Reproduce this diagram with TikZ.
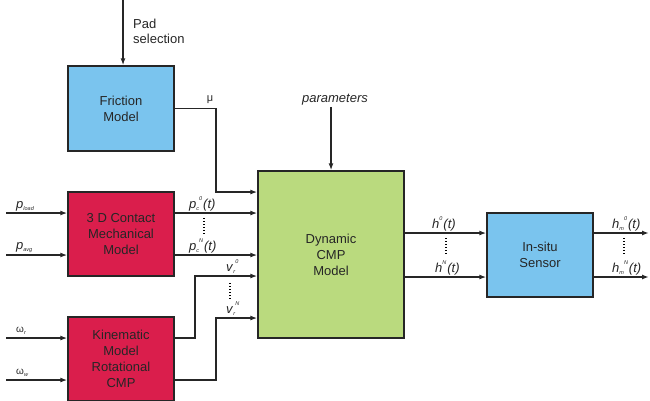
\documentclass[tikz,border=0pt]{standalone}
\usepackage{fontspec}
\setmainfont{Liberation Sans}
\usetikzlibrary{arrows.meta, positioning, calc}
\definecolor{fricblue}{RGB}{122,196,238}
\definecolor{modred}{RGB}{218,30,76}
\definecolor{cmpgreen}{RGB}{186,218,126}
% signal label: base, subscript, superscript, tail
\newcommand{\sgn}[4]{\textit{#1}\raisebox{-0.35ex}{\fontsize{5.5}{5.5}\selectfont\textit{#2}}\raisebox{1.15ex}{\fontsize{5.5}{5.5}\selectfont\textit{#3}}\hspace{1pt}\textit{#4}}

\begin{document}
\begin{tikzpicture}[x=1pt, y=-1pt,
  block/.style={draw=black!85, line width=1.4pt, inner sep=0pt, align=center,
    text=black!85, font=\fontsize{13}{16}\selectfont},
  sig/.style={line width=1.4pt, draw=black!85},
  arr/.style={sig, -{Latex[length=7pt,width=5pt]}},
  lbl/.style={font=\fontsize{13}{15}\selectfont, inner sep=1pt, text=black!85},
  vdots/.style={line width=1.4pt, dash pattern=on 1.3pt off 1.7pt}]
  \useasboundingbox (0,0) rectangle (650,400);
  \clip (0,0) rectangle (650,400);

  % blocks
  \node[block, fill=fricblue, minimum width=106pt, minimum height=85pt] (fric) at (121,108.5) {Friction\\Model};
  \node[block, fill=modred, minimum width=106pt, minimum height=84pt] (cont) at (121,234) {3 D Contact\\Mechanical\\Model};
  \node[block, fill=modred, minimum width=106pt, minimum height=84pt] (kin) at (121,359) {Kinematic\\Model\\Rotational\\CMP};
  \node[block, fill=cmpgreen, minimum width=146pt, minimum height=167pt] (dyn) at (331,254.5) {Dynamic\\CMP\\Model};
  \node[block, fill=fricblue, minimum width=106pt, minimum height=84pt] (sens) at (540,255) {In-situ\\Sensor};

  % pad selection and parameters
  \coordinate (pad) at (123,0);
  \draw[arr] (pad) -- (pad |- fric.north);
  \node[lbl, anchor=west, align=left] (padsel) at (132,31) {Pad\\selection};
  \node[lbl, font=\fontsize{13}{15}\selectfont\itshape] (par) at (335,100) {parameters};
  \draw[arr] (par.south -| dyn.north) -- (dyn.north);

  % friction coefficient
  \coordinate (mu) at (216,192);
  \draw[arr] (fric.east) -| (mu) -- (mu -| dyn.west);
  \node[lbl, font=\fontsize{11}{11}\selectfont] (lmu) at (210,100) {μ};

  % contact model in/out
  \coordinate (pload) at (6,213);
  \coordinate (pavg) at (6,255);
  \draw[arr] (pload) -- (pload -| cont.west);
  \draw[arr] (pavg) -- (pavg -| cont.west);
  \node[lbl, anchor=south west] (lpload) at (15,212) {\sgn{p}{load}{}{}};
  \node[lbl, anchor=south west] (lpavg) at (15,254) {\sgn{p}{avg}{}{}};
  \coordinate (pc0) at (cont.east |- pload);
  \coordinate (pcN) at (cont.east |- pavg);
  \draw[arr] (pc0) -- (pc0 -| dyn.west);
  \draw[arr] (pcN) -- (pcN -| dyn.west);
  \node[lbl, anchor=south west] (lpc0) at (188,212) {\sgn{p}{c}{0}{(t)}};
  \node[lbl, anchor=south west] (lpcN) at (188,254) {\sgn{p}{c}{N}{(t)}};
  \draw[vdots] (204,218) -- (204,234);

  % kinematic model in/out
  \coordinate (wr) at (6,338);
  \coordinate (ww) at (6,380);
  \draw[arr] (wr) -- (wr -| kin.west);
  \draw[arr] (ww) -- (ww -| kin.west);
  \node[lbl, anchor=south west, font=\fontsize{10}{10}\selectfont] (lwr) at (15,336) {ω\raisebox{-0.4ex}{\fontsize{5.5}{5.5}\selectfont\textit{r}}};
  \node[lbl, anchor=south west, font=\fontsize{10}{10}\selectfont] (lww) at (15,378) {ω\raisebox{-0.4ex}{\fontsize{5.5}{5.5}\selectfont\textit{w}}};
  \coordinate (v0) at (195,276);
  \coordinate (vN) at (216,318);
  \draw[arr] (kin.east |- wr) -| (v0) -- (v0 -| dyn.west);
  \draw[arr] (kin.east |- ww) -| (vN) -- (vN -| dyn.west);
  \node[lbl, anchor=south west] (lv0) at (225,275) {\sgn{v}{r}{0}{}};
  \node[lbl, anchor=south west] (lvN) at (225,317) {\sgn{v}{r}{N}{}};
  \draw[vdots] (230,283) -- (230,299);

  % thickness profiles
  \coordinate (h0) at (dyn.east |- 0,233);
  \coordinate (hN) at (dyn.east |- 0,277);
  \draw[arr] (h0) -- (h0 -| sens.west);
  \draw[arr] (hN) -- (hN -| sens.west);
  \node[lbl, anchor=south west] (lh0) at (431,232) {\sgn{h}{}{0}{(t)}};
  \node[lbl, anchor=south west] (lhN) at (434,276) {\sgn{h}{}{N}{(t)}};
  \draw[vdots] (446,238) -- (446,254);
  \coordinate (rim) at (649,0);
  \draw[arr] (sens.east |- h0) -- (h0 -| rim);
  \draw[arr] (sens.east |- hN) -- (hN -| rim);
  \node[lbl, anchor=south west] (lhm0) at (611,232) {\sgn{h}{m}{0}{(t)}};
  \node[lbl, anchor=south west] (lhmN) at (611,276) {\sgn{h}{m}{N}{(t)}};
  \draw[vdots] (624,238) -- (624,254);
\end{tikzpicture}
\end{document}
